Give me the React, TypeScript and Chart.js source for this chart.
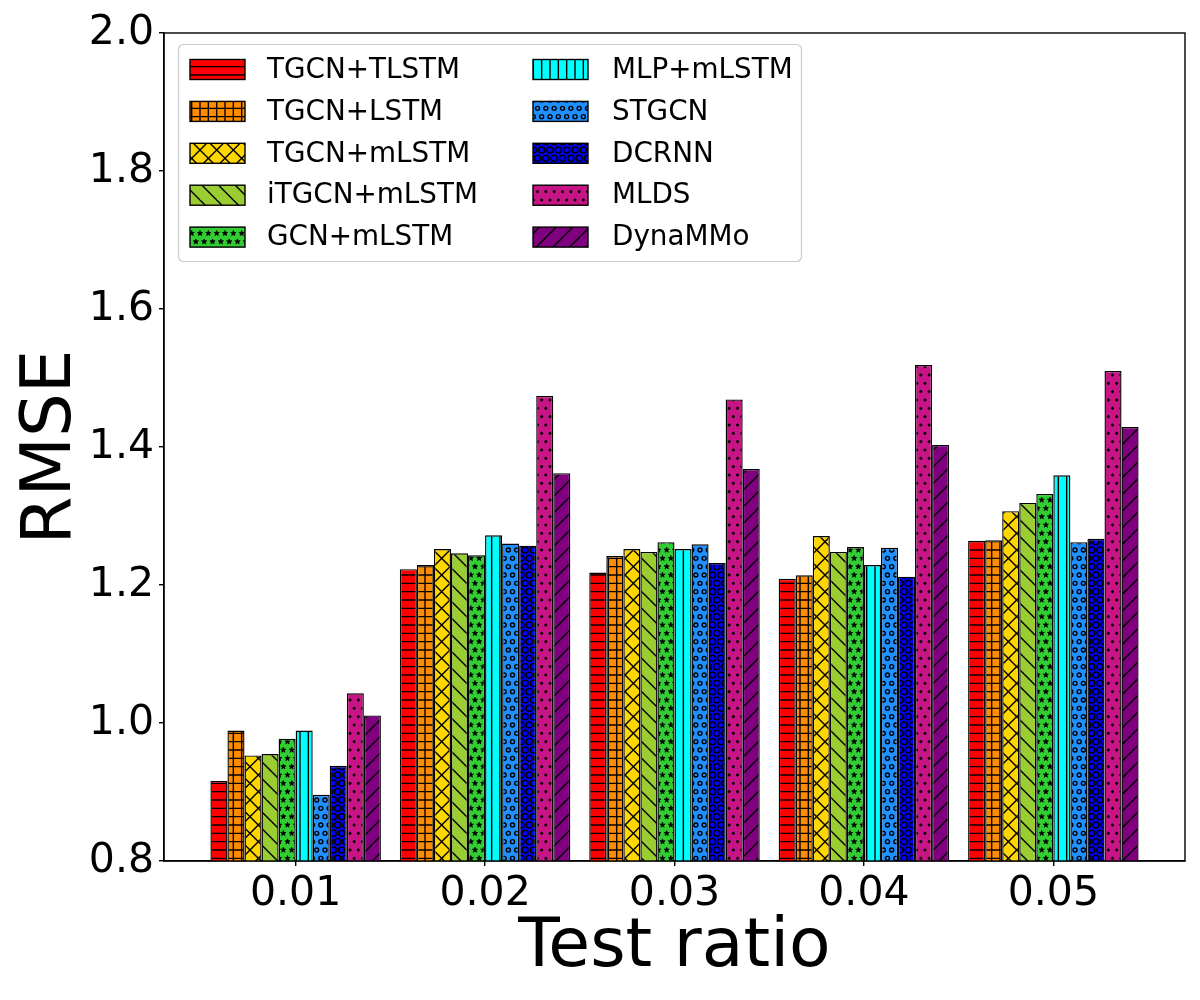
import { useEffect, useRef } from "react";
import { Chart, registerables } from "chart.js";

Chart.register(...registerables);

const ratios = [0.01, 0.02, 0.03, 0.04, 0.05];

const tgcnTlstm = [0.916, 1.223, 1.218, 1.209, 1.264];
const tgcnLstm = [0.989, 1.229, 1.242, 1.214, 1.265];
const tgcnMlstm = [0.953, 1.252, 1.252, 1.271, 1.307];
const itgcnMlstm = [0.955, 1.246, 1.248, 1.248, 1.319];
const gcnMlstm = [0.977, 1.243, 1.262, 1.255, 1.332];
const mlpMlstm = [0.989, 1.272, 1.252, 1.229, 1.359];
const stgcn = [0.896, 1.26, 1.259, 1.254, 1.262];
const dcrnn = [0.938, 1.257, 1.232, 1.212, 1.267];
const mlds = [1.043, 1.474, 1.469, 1.519, 1.51];
const dynammo = [1.011, 1.362, 1.368, 1.403, 1.429];

const yTicks = [0.8, 1.0, 1.2, 1.4, 1.6, 1.8, 2.0];

type Hatch = "-" | "+" | "x" | "\\" | "*" | "|" | "o" | "O" | "." | "/";

const series: { label: string; values: number[]; color: string; hatch: Hatch }[] = [
  { label: "TGCN+TLSTM", values: tgcnTlstm, color: "#ff0000", hatch: "-" },
  { label: "TGCN+LSTM", values: tgcnLstm, color: "#ff8c00", hatch: "+" },
  { label: "TGCN+mLSTM", values: tgcnMlstm, color: "#ffd700", hatch: "x" },
  { label: "iTGCN+mLSTM", values: itgcnMlstm, color: "#9acd32", hatch: "\\" },
  { label: "GCN+mLSTM", values: gcnMlstm, color: "#32cd32", hatch: "*" },
  { label: "MLP+mLSTM", values: mlpMlstm, color: "#00ffff", hatch: "|" },
  { label: "STGCN", values: stgcn, color: "#1e90ff", hatch: "o" },
  { label: "DCRNN", values: dcrnn, color: "#0000ff", hatch: "O" },
  { label: "MLDS", values: mlds, color: "#c71585", hatch: "." },
  { label: "DynaMMo", values: dynammo, color: "#800080", hatch: "/" }
];

const FONT = "'DejaVu Sans', Verdana, sans-serif";
const TILE = 100;

// matplotlib-like hatch tile, 100px = one hatch unit
function makePattern(ctx: CanvasRenderingContext2D, color: string, hatch: Hatch) {
  const c = document.createElement("canvas");
  c.width = TILE;
  c.height = TILE;
  const g = c.getContext("2d")!;
  g.fillStyle = color;
  g.fillRect(0, 0, TILE, TILE);
  g.strokeStyle = "#000";
  g.fillStyle = "#000";
  g.lineWidth = 1.4;

  const line = (x1: number, y1: number, x2: number, y2: number) => {
    g.beginPath();
    g.moveTo(x1, y1);
    g.lineTo(x2, y2);
    g.stroke();
  };

  const horiz = (n: number) => {
    for (let i = 0; i <= n; i++) line(0, (i * TILE) / n, TILE, (i * TILE) / n);
  };
  const vert = (n: number) => {
    for (let i = 0; i <= n; i++) line((i * TILE) / n, 0, (i * TILE) / n, TILE);
  };
  const northEast = (n: number) => {
    for (let i = -n; i <= 2 * n; i++) {
      const s = (i * TILE) / n;
      line(s - TILE, TILE, s + TILE, -TILE);
    }
  };
  const southEast = (n: number) => {
    for (let i = -n; i <= 2 * n; i++) {
      const s = (i * TILE) / n;
      line(s - TILE, -TILE, s + TILE, TILE);
    }
  };
  const shapes = (n: number, draw: (x: number, y: number, r: number) => void, size: number) => {
    const off = TILE / n;
    const r = size * off;
    for (let i = 0; i <= n; i++) {
      const y = i * off;
      if (i % 2 === 0) {
        for (let j = 0; j <= n; j++) draw(j * off, y, r);
      } else {
        for (let j = 0; j < n; j++) draw(off / 2 + j * off, y, r);
      }
    }
  };
  const ring = (x: number, y: number, r: number) => {
    g.beginPath();
    g.arc(x, y, r, 0, Math.PI * 2);
    g.stroke();
  };
  const dot = (x: number, y: number, r: number) => {
    g.beginPath();
    g.arc(x, y, r, 0, Math.PI * 2);
    g.fill();
    g.stroke();
  };
  const star = (x: number, y: number, r: number) => {
    g.beginPath();
    for (let k = 0; k < 10; k++) {
      const rad = k % 2 === 0 ? r : r * 0.382;
      const a = -Math.PI / 2 + (k * Math.PI) / 5;
      const px = x + rad * Math.cos(a);
      const py = y + rad * Math.sin(a);
      if (k === 0) g.moveTo(px, py);
      else g.lineTo(px, py);
    }
    g.closePath();
    g.fill();
    g.lineWidth = 0.8;
    g.stroke();
    g.lineWidth = 1.4;
  };

  switch (hatch) {
    case "-":
      horiz(12);
      break;
    case "+":
      horiz(12);
      vert(12);
      break;
    case "x":
      northEast(6);
      southEast(6);
      break;
    case "\\":
      southEast(6);
      break;
    case "/":
      northEast(6);
      break;
    case "|":
      vert(12);
      break;
    case "*":
      shapes(12, star, 1 / 3);
      break;
    case "o":
      g.lineWidth = 1.4;
      shapes(12, ring, 0.24);
      break;
    case "O":
      g.lineWidth = 1.5;
      shapes(12, ring, 0.37);
      break;
    case ".":
      g.lineWidth = 1;
      shapes(12, dot, 0.13);
      break;
  }
  return ctx.createPattern(c, "repeat")!;
}

const frameAndLegend = {
  id: "frameAndLegend",
  afterDatasetsDraw(chart: Chart) {
    const { ctx, chartArea } = chart;
    ctx.save();
    ctx.strokeStyle = "#000";
    ctx.lineWidth = 1.4;
    ctx.strokeRect(chartArea.left, chartArea.top, chartArea.right - chartArea.left, chartArea.bottom - chartArea.top);
    ctx.restore();
  },
  afterDraw(chart: Chart) {
    const ctx = chart.ctx;
    const pats = (chart.config.data.datasets as any[]).map((d) => d.backgroundColor);
    ctx.save();
    // legend frame
    const fx = 178.5, fy = 44.5, fw = 623, fh = 217, rad = 5;
    ctx.beginPath();
    ctx.roundRect(fx, fy, fw, fh, rad);
    ctx.fillStyle = "rgba(255,255,255,0.8)";
    ctx.fill();
    ctx.strokeStyle = "#cccccc";
    ctx.lineWidth = 1.2;
    ctx.stroke();

    const colHandle = [190, 533];
    const colText = [267, 612];
    ctx.font = `27.8px ${FONT}`;
    ctx.textBaseline = "middle";
    ctx.textAlign = "left";
    series.forEach((s, i) => {
      const col = i < 5 ? 0 : 1;
      const row = i % 5;
      const cy = 69.5 + row * 41.9;
      const hx = colHandle[col];
      const hy = cy - 10;
      ctx.fillStyle = pats[i];
      ctx.fillRect(hx, hy, 55, 20);
      ctx.strokeStyle = "#000";
      ctx.lineWidth = 1.4;
      ctx.strokeRect(hx, hy, 55, 20);
      ctx.fillStyle = "#000";
      ctx.fillText(s.label, colText[col], cy + 1);
    });
    ctx.restore();
  }
};

export default function App() {
  const canvasRef = useRef<HTMLCanvasElement | null>(null);

  useEffect(() => {
    if (!canvasRef.current) return;
    const ctx = canvasRef.current.getContext("2d")!;

    const chart = new Chart(canvasRef.current, {
      type: "bar",
      data: {
        datasets: series.map((s) => ({
          label: s.label,
          data: s.values.map((v, i) => ({ x: ratios[i], y: v })),
          backgroundColor: makePattern(ctx, s.color, s.hatch),
          borderColor: "#000",
          borderWidth: 1.4,
          borderSkipped: false,
          categoryPercentage: 0.9,
          barPercentage: 1
        }))
      },
      options: {
        responsive: false,
        devicePixelRatio: 1,
        animation: false,
        layout: { padding: { top: 33, right: 15, left: 0, bottom: 0 } },
        plugins: {
          legend: { display: false },
          tooltip: { enabled: false }
        },
        scales: {
          x: {
            type: "linear",
            offset: false,
            bounds: "data",
            min: 0.01 - 0.00695,
            max: 0.05 + 0.00695,
            afterBuildTicks: (scale: any) => {
              scale.ticks = ratios.map((v) => ({ value: v }));
            },
            afterFit: (scale: any) => {
              scale.height = 139;
            },
            ticks: {
              callback: (v: any) => Number(v).toFixed(2),
              color: "#000",
              font: { family: FONT, size: 41 },
              padding: 4,
              maxRotation: 0,
              autoSkip: false
            },
            grid: {
              offset: false,
              drawOnChartArea: false,
              drawTicks: true,
              tickLength: 5,
              color: "#000",
              lineWidth: 1.4
            },
            border: { display: true, color: "#000", width: 1.4 },
            title: {
              display: true,
              text: "Test ratio",
              color: "#000",
              font: { family: FONT, size: 68 },
              padding: { top: 0, bottom: 11 }
            }
          },
          y: {
            min: 0.8,
            max: 2.0,
            afterBuildTicks: (scale: any) => {
              scale.ticks = yTicks.map((v) => ({ value: v }));
            },
            afterFit: (scale: any) => {
              scale.width = 164;
            },
            ticks: {
              callback: (v: any) => Number(v).toFixed(1),
              color: "#000",
              font: { family: FONT, size: 41 },
              padding: 5
            },
            grid: {
              drawOnChartArea: false,
              drawTicks: true,
              tickLength: 5,
              color: "#000",
              lineWidth: 1.4
            },
            border: { display: true, color: "#000", width: 1.4 },
            title: {
              display: true,
              text: "RMSE",
              color: "#000",
              font: { family: FONT, size: 69 },
              padding: { top: 11, bottom: 0 }
            }
          }
        }
      },
      plugins: [frameAndLegend]
    });

    return () => chart.destroy();
  }, []);

  return (
    <div style={{ position: "fixed", left: 0, top: 0, width: 1200, height: 1000, background: "#fff" }}>
      <canvas ref={canvasRef} width={1200} height={1000} />
    </div>
  );
}
